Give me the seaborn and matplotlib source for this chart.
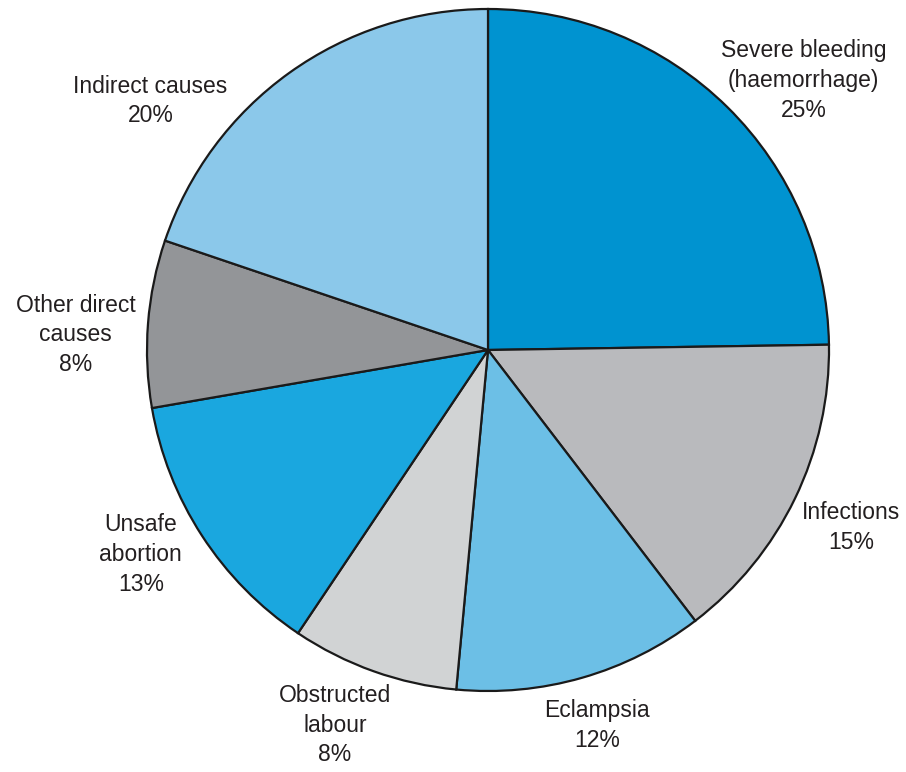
import matplotlib
matplotlib.use("Agg")
import matplotlib.pyplot as plt
import seaborn as sns

# causes of maternal death, clockwise from the top
causes = ["Severe bleeding\n(haemorrhage)", "Infections", "Eclampsia",
          "Obstructed\nlabour", "Unsafe\nabortion", "Other direct\ncauses",
          "Indirect causes"]
shares = [25, 15, 12, 8, 13, 8, 20]
colours = ["#0093d0", "#b9babd", "#6cbfe6", "#d1d3d4", "#1aa7df", "#939598", "#8bc8ea"]

# label centres (pie radius = 1)
label_xy = [(0.925, 0.79), (1.065, -0.52), (0.32, -1.10), (-0.449, -1.10),
            (-1.018, -0.60), (-1.21, 0.044), (-0.99, 0.73)]

sns.set_theme(style="white")
plt.rcParams["font.family"] = ["Liberation Sans Narrow", "Liberation Sans", "DejaVu Sans"]

fig = plt.figure(figsize=(9.06, 7.72), dpi=100)
ax = fig.add_axes([0, 0, 1, 1])

ax.pie(shares, colors=sns.color_palette(colours), startangle=90, counterclock=False,
       normalize=True, wedgeprops=dict(edgecolor="#1a1a1a", linewidth=1.6))

for name, val, (x, y) in zip(causes, shares, label_xy):
    ax.text(x, y, f"{name}\n{val}%", ha="center", va="center", fontsize=16.5,
            color="#231f20", linespacing=1.38)

ax.set_xlim(-488 / 341, 418 / 341)
ax.set_ylim(-422 / 341, 350 / 341)
ax.set_aspect("equal")
ax.axis("off")

fig.savefig("out.png", dpi=100)
